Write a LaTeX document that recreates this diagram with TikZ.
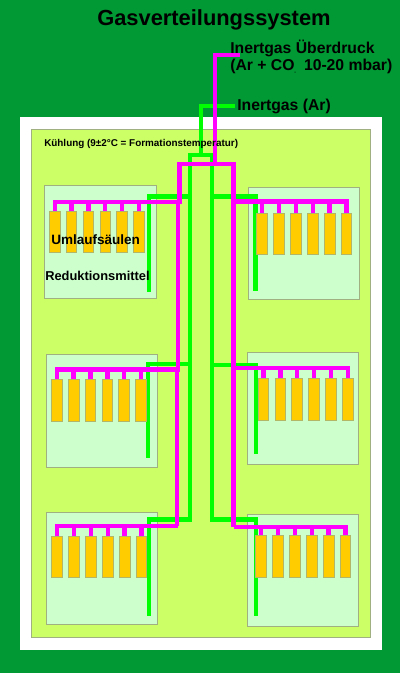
\documentclass[tikz,border=0pt]{standalone}
\usepackage{fontspec}
\setmainfont{Liberation Sans}
\usepackage{xcolor}
\usetikzlibrary{positioning}
\definecolor{darkGreen}{HTML}{009933}
\definecolor{limeGreen}{HTML}{CCFF66}
\definecolor{paleGreen}{HTML}{CCFFCC}
\definecolor{columnGold}{HTML}{FFCC00}
\definecolor{edgeGray}{HTML}{A0B080}
\definecolor{pipeMagenta}{HTML}{FF00FF}
\definecolor{pipeGreen}{HTML}{00FF00}
\begin{document}
\begin{tikzpicture}[
  x=0.75pt, y=-0.75pt,
  panelBox/.style={draw=edgeGray, fill=paleGreen, line width=0.7pt},
  columnBox/.style={draw=edgeGray!80!columnGold, fill=columnGold, line width=0.6pt,
                    minimum width=8pt, minimum height=31pt, inner sep=0pt, anchor=north},
  magentaPipe/.style={draw=pipeMagenta, line width=3.3pt},
  greenPipe/.style={draw=pipeGreen, line width=3.3pt},
  lbl/.style={font=\bfseries, inner sep=0pt, anchor=west, text=black}
]
  \useasboundingbox (0,0) rectangle (400,673);

  % Background layers
  \fill[darkGreen] (0,0) rectangle (400,673);
  \fill[white] (20,117) rectangle (382,650);
  \draw[edgeGray, fill=limeGreen, line width=0.7pt] (31,129) rectangle (370,637);

  % Panels
  \foreach \xl/\yt/\xr/\yb in {44/185/156/298, 248/187/359/299, 46/354/157/467,
                               247/352/358/464, 46/512/157/624, 247/514/358/626}
    \draw[panelBox] (\xl,\yt) rectangle (\xr,\yb);

  % Inert gas, green
  \draw[greenPipe] (235,106) -- (201,106) -- (201,155);
  \draw[greenPipe] (190,519.5) -- (190,155) -- (212,155) -- (212,519.5);
  \draw[greenPipe] (190,196.7) -- (149,196.7) -- (149,291.7);
  \draw[greenPipe] (212,196.7) -- (255.3,196.7) -- (255.3,290.7);
  \draw[greenPipe] (190,364) -- (147.7,364) -- (147.7,458);
  \draw[greenPipe] (212,365) -- (255.7,365) -- (255.7,454);
  \draw[greenPipe] (192,519.5) -- (149,519.5) -- (149,616);
  \draw[greenPipe] (210,519.5) -- (255.7,519.5) -- (255.7,616);

  % Columns and their stubs
  \foreach \rowName/\xFirst/\yTop/\yBranch in {tl/54.7/211/202, tr/262.2/212.7/201.7,
                                               ml/56.8/379.3/369.3, mr/263.5/378.3/367.7,
                                               bl/57.2/535.7/525.7, br/261.2/535.3/527}
    \foreach \i in {0,...,5} {
      \node[columnBox] (\rowName\i) at ({\xFirst+\i*16.85},\yTop) {};
      \draw[magentaPipe] (\rowName\i.north |- 0,\yBranch) -- (\rowName\i.north);
    };

  % Overpressure gas, magenta
  \draw[magentaPipe] (240,55) -- (215,55) -- (215,164.3);
  \draw[magentaPipe] (178,202) -- (179.5,202) -- (179.5,164.3) -- (233.5,164.3) -- (233.5,527);
  \draw[magentaPipe] (178,202) -- (178,369.3);
  \draw[magentaPipe] (176.7,367.8) -- (176.7,525.7);
  \draw[magentaPipe] (180,202) -- (54.7,202) -- (54.7,204);
  \draw[magentaPipe] (233.5,201.7) -- (346.8,201.7) -- (346.8,204);
  \draw[magentaPipe] (179.5,369.3) -- (57,369.3) -- (57,371);
  \draw[magentaPipe] (233.5,367.7) -- (347.7,367.7) -- (347.7,370);
  \draw[magentaPipe] (178.2,525.7) -- (56.7,525.7) -- (56.7,528);
  \draw[magentaPipe] (233.5,527) -- (345.7,527) -- (345.7,529);

  % Labels
  \node[lbl, font=\fontsize{16.4}{18}\bfseries\selectfont] (title) at (97,19.5) {Gasverteilungssystem};
  \node[lbl, font=\fontsize{11.8}{13}\bfseries\selectfont] (overpressure) at (230,48.5) {Inertgas Überdruck};
  \node[lbl, font=\fontsize{11.8}{13}\bfseries\selectfont] (mixture) at (230,66.5) {(Ar + CO\raisebox{-2pt}{\fontsize{1.5}{2}\selectfont 2}\hspace{3pt} 10-20 mbar)};
  \node[lbl, font=\fontsize{11.8}{13}\bfseries\selectfont] (argon) at (237,106) {Inertgas (Ar)};
  \node[lbl, font=\fontsize{7.42}{9}\bfseries\selectfont] (cooling) at (44,144) {Kühlung (9±2°C = Formationstemperatur)};
  \node[lbl, font=\fontsize{10.15}{12}\bfseries\selectfont] (columns) at (51,240) {Umlaufsäulen};
  \node[lbl, font=\fontsize{9.65}{11}\bfseries\selectfont] (reductant) at (45,276) {Reduktionsmittel};
\end{tikzpicture}
\end{document}
